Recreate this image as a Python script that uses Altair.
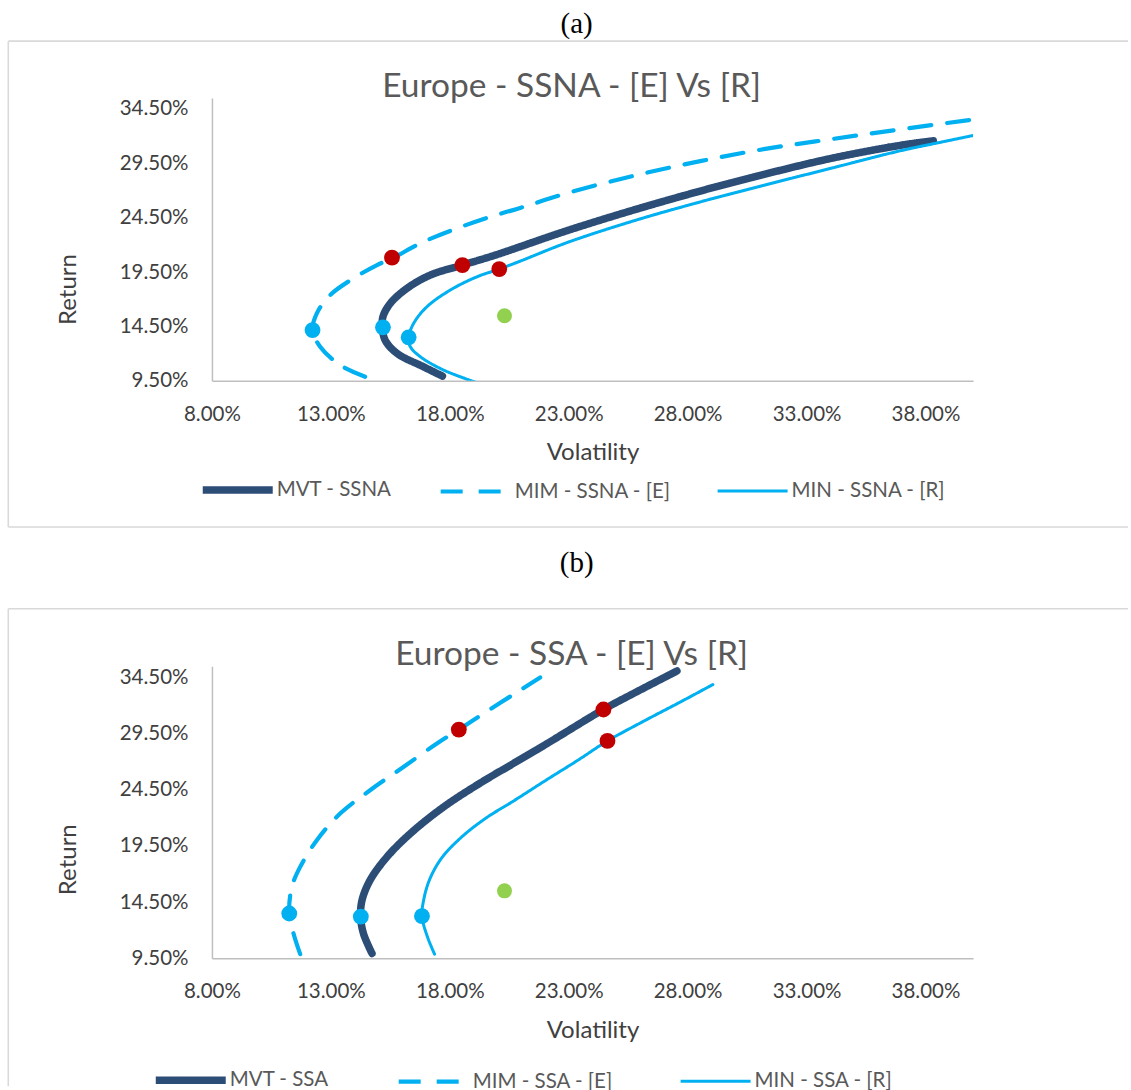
import altair as alt
import pandas as pd

FONT = "Lato"
SERIF = "Liberation Serif"
GRAY = "#595959"
DARK = "#404040"

# ---------------------------------------------------------------- data
# Volatility / return in percent.

# (a) Europe - SSNA
a_names = ["MVT - SSNA", "MIM - SSNA - [E]", "MIN - SSNA - [R]"]
a_mvt_vol = [17.69, 16.89, 15.78, 15.28, 15.17, 15.19, 15.50, 16.20, 17.18, 18.53, 19.90, 22.92, 25.72, 28.53, 31.33, 34.13, 36.93, 38.33]
a_mvt_ret = [9.93, 10.79, 12.02, 13.24, 14.41, 15.39, 16.62, 18.00, 19.22, 20.14, 21.05, 23.30, 25.20, 26.95, 28.55, 30.00, 31.15, 31.57]
a_mim_vol = [14.44, 13.39, 12.55, 12.23, 12.41, 12.97, 13.95, 14.94, 15.57, 16.89, 18.30, 19.70, 20.96, 22.92, 25.72, 28.53, 31.33, 34.13, 36.93, 40.08]
a_mim_ret = [9.87, 10.94, 12.63, 14.16, 15.70, 17.38, 18.92, 20.14, 20.75, 22.28, 23.52, 24.58, 25.40, 26.75, 28.35, 29.70, 30.85, 31.75, 32.62, 33.55]
a_min_vol = [19.30, 17.74, 16.76, 16.34, 16.27, 16.48, 17.04, 18.02, 19.14, 20.08, 20.96, 22.92, 25.72, 28.53, 31.33, 34.13, 36.93, 38.33, 40.20]
a_min_ret = [9.20, 10.48, 11.71, 12.63, 13.49, 14.78, 16.31, 17.84, 19.06, 19.77, 20.50, 22.20, 24.20, 25.95, 27.55, 29.10, 30.65, 31.30, 32.15]
a_red_vol = [15.57, 18.53, 20.08]
a_red_ret = [20.82, 20.14, 19.77]
a_cyan_vol = [12.23, 15.19, 16.27]
a_cyan_ret = [14.16, 14.41, 13.49]
a_green_vol = [20.30]
a_green_ret = [15.48]

# (b) Europe - SSA
b_names = ["MVT - SSA", "MIM - SSA - [E]", "MIN - SSA - [R]"]
b_mvt_vol = [14.73, 14.37, 14.25, 14.31, 14.65, 15.36, 16.34, 17.74, 19.28, 20.68, 22.08, 24.46, 25.58, 27.55]
b_mvt_ret = [9.92, 11.70, 13.20, 14.66, 16.45, 18.52, 20.60, 22.97, 25.10, 26.85, 28.60, 31.65, 32.92, 35.08]
b_mim_vol = [11.71, 11.43, 11.25, 11.36, 11.71, 12.41, 13.39, 14.65, 16.05, 17.46, 18.38, 19.42, 20.96, 21.80]
b_mim_ret = [9.86, 11.70, 13.48, 15.85, 17.63, 20.01, 22.38, 24.46, 26.53, 28.62, 29.86, 31.29, 33.37, 34.50]
b_min_vol = [17.36, 17.06, 16.83, 16.90, 17.15, 17.65, 18.45, 19.50, 20.68, 22.08, 23.40, 24.63, 26.28, 27.68, 29.06]
b_min_ret = [9.86, 11.40, 13.24, 14.66, 16.50, 18.40, 20.20, 21.95, 23.50, 25.40, 27.15, 28.85, 30.75, 32.30, 33.87]
b_red_vol = [18.38, 24.46, 24.63]
b_red_ret = [29.86, 31.65, 28.85]
b_cyan_vol = [11.25, 14.26, 16.83]
b_cyan_ret = [13.48, 13.20, 13.24]
b_green_vol = [20.30]
b_green_ret = [15.50]

x_ticks = [8, 13, 18, 23, 28, 33, 38]
y_ticks = [9.5, 14.5, 19.5, 24.5, 29.5, 34.5]

# ---------------------------------------------------------------- layout
W = 761.3           # plot width
LEFT = 211.7        # page x of the plot origin
PAGE_W, PAGE_H = 1131, 1090
one = pd.DataFrame({"k": [0]})


def curves_df(names, curves):
    rows = []
    for name, (vols, rets) in zip(names, curves):
        for i, (v, r) in enumerate(zip(vols, rets)):
            rows.append({"series": name, "i": i, "vol": v, "ret": r})
    return pd.DataFrame(rows)


def panel(caption, cap_y, title, names, curves, red, cyan, green, H, top,
          box_top, box_bottom, legend_x, legend_y, legend_gap, ytitle_y,
          frame=False):
    x_enc = alt.X(
        "vol:Q",
        scale=alt.Scale(domain=[8, 40], nice=False, zero=False),
        axis=alt.Axis(
            values=x_ticks, labelExpr="format(datum.value, '.2f') + '%'",
            grid=False, ticks=False, tickSize=0, domainColor="#BFBFBF",
            domainWidth=1.5, labelFont=FONT, labelFontSize=20.5,
            labelColor=DARK, labelPadding=33.5, labelBaseline="middle",
            labelFlush=False, labelOverlap=False,
            title="Volatility", titleFont=FONT, titleFontSize=24,
            titleFontWeight="normal", titleColor=DARK,
            titleX=W / 2, titleY=72, titleBaseline="middle",
        ),
    )
    y_enc = alt.Y(
        "ret:Q",
        scale=alt.Scale(domain=[9.5, 35.5], nice=False, zero=False),
        axis=alt.Axis(
            values=y_ticks, labelExpr="format(datum.value, '.2f') + '%'",
            grid=False, ticks=False, tickSize=0, domainColor="#BFBFBF",
            domainWidth=1.5, labelFont=FONT, labelFontSize=20.5,
            labelColor=DARK, labelPadding=24, labelBaseline="middle",
            labelFlush=False, labelOverlap=False,
            title="Return", titleFont=FONT, titleFontSize=24,
            titleFontWeight="normal", titleColor=DARK,
            titleX=-143.7, titleY=ytitle_y, titleAngle=270,
            titleBaseline="middle", titleAlign="center",
        ),
    )

    legend = alt.Legend(
        orient="none", legendX=legend_x, legendY=legend_y,
        direction="horizontal", columns=3, title=None, padding=0,
        symbolType="stroke", symbolSize=4900, labelFont=FONT,
        labelFontSize=20.5, labelColor=GRAY, labelOffset=0,
        columnPadding=legend_gap, labelLimit=400,
    )

    lines = alt.Chart(curves_df(names, curves)).mark_line(
        clip=True, interpolate="catmull-rom", strokeCap="round"
    ).encode(
        x=x_enc, y=y_enc, order="i:Q",
        color=alt.Color("series:N", legend=legend,
                        scale=alt.Scale(domain=names,
                                        range=["#2C4D75", "#00B0F0", "#00B0F0"])),
        strokeDash=alt.StrokeDash("series:N", legend=legend,
                                  scale=alt.Scale(domain=names,
                                                  range=[[1, 0], [22, 16], [1, 0]])),
        strokeWidth=alt.StrokeWidth("series:N", legend=legend,
                                    scale=alt.Scale(type="ordinal", domain=names,
                                                    range=[7.5, 4.2, 3])),
    )

    def dots(vr, colour, size):
        return alt.Chart(pd.DataFrame({"vol": vr[0], "ret": vr[1]})).mark_circle(
            color=colour, opacity=1, size=size
        ).encode(x=x_enc, y=y_enc)

    layers = []
    if frame:
        # transparent sheet covering the whole page: fixes the drawing bounds
        layers.append(alt.Chart(one).mark_rect(opacity=0).encode(
            x=alt.value(-LEFT), x2=alt.value(PAGE_W - LEFT),
            y=alt.value(-top), y2=alt.value(PAGE_H - top)))

    box = "#D9D9D9"
    layers.append(alt.Chart(one).mark_rule(color=box, strokeWidth=1.6).encode(
        x=alt.value(-203.7), x2=alt.value(PAGE_W - LEFT - 3), y=alt.value(box_top)))
    layers.append(alt.Chart(one).mark_rule(color=box, strokeWidth=1.6).encode(
        x=alt.value(-203.7), y=alt.value(box_top), y2=alt.value(box_bottom)))
    if box_bottom < PAGE_H - top - 4:
        layers.append(alt.Chart(one).mark_rule(color=box, strokeWidth=1.6).encode(
            x=alt.value(-203.7), x2=alt.value(PAGE_W - LEFT - 3),
            y=alt.value(box_bottom)))

    layers.append(alt.Chart(one).mark_text(
        font=SERIF, fontSize=29, color="black", align="center", baseline="alphabetic"
    ).encode(x=alt.value(576.5 - LEFT), y=alt.value(cap_y), text=alt.value(caption)))

    layers.append(alt.Chart(one).mark_text(
        font=FONT, fontSize=33.5, color=GRAY, align="center", baseline="alphabetic"
    ).encode(x=alt.value(571.5 - LEFT), y=alt.value(-1), text=alt.value(title)))

    layers.append(lines)
    layers.append(dots(red, "#C00000", 250))
    layers.append(dots(cyan, "#00B0F0", 250))
    layers.append(dots(green, "#92D050", 225))

    return alt.layer(*layers).properties(width=W, height=H)


panel_a = panel(
    "(a)", 33.2 - 98, "Europe - SSNA - [E] Vs [R]", a_names,
    [(a_mvt_vol, a_mvt_ret), (a_mim_vol, a_mim_ret), (a_min_vol, a_min_ret)],
    (a_red_vol, a_red_ret), (a_cyan_vol, a_cyan_ret), (a_green_vol, a_green_ret),
    H=282.7, top=98, box_top=41 - 98, box_bottom=527 - 98,
    legend_x=198.5 - LEFT, legend_y=488 - 98 - 37, legend_gap=40, ytitle_y=191,
    frame=True,
)

panel_b = panel(
    "(b)", 571.6 - 666, "Europe - SSA - [E] Vs [R]", b_names,
    [(b_mvt_vol, b_mvt_ret), (b_mim_vol, b_mim_ret), (b_min_vol, b_min_ret)],
    (b_red_vol, b_red_ret), (b_cyan_vol, b_cyan_ret), (b_green_vol, b_green_ret),
    H=292, top=666, box_top=608.5 - 666, box_bottom=PAGE_H - 666 - 4,
    legend_x=151.5 - LEFT, legend_y=1078 - 666 - 37, legend_gap=61, ytitle_y=193,
)

chart = alt.vconcat(panel_a, panel_b, spacing=666 - 98 - 282.7, bounds="flush").resolve_scale(
    color="independent", strokeDash="independent", strokeWidth="independent"
).properties(
    padding=0, autosize=alt.AutoSizeParams(type="pad"), background="white"
).configure_view(stroke=None)

chart.save("out.html", embed_options={"renderer": "svg", "actions": False})
